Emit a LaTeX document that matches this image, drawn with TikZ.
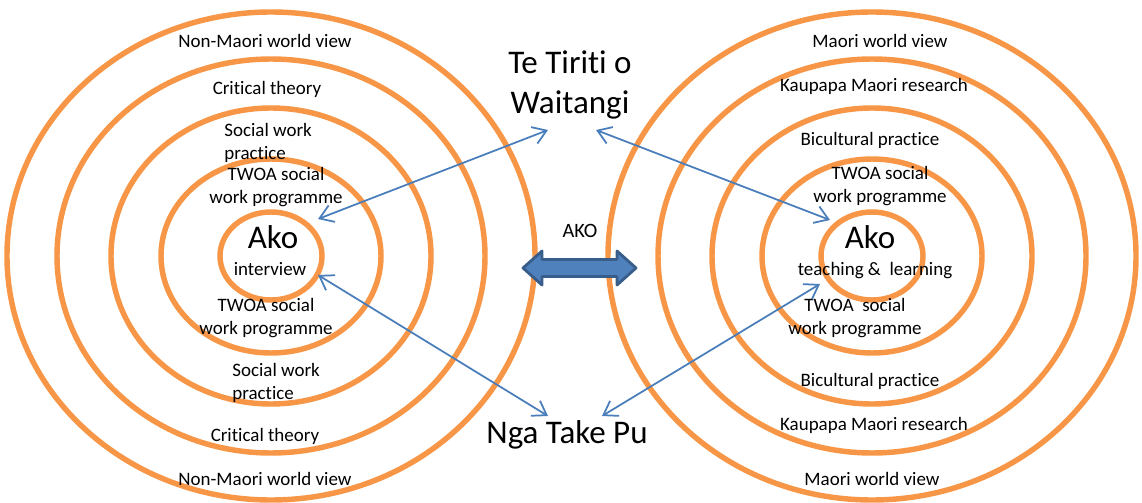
\documentclass[tikz,border=0pt]{standalone}
\usepackage{fontspec}
\setmainfont{Carlito}[Ligatures=NoCommon]
\usepackage{xcolor}
\usepackage{tikz}
\usetikzlibrary{arrows.meta}
\definecolor{ringO}{RGB}{247,150,70}
\definecolor{linkB}{RGB}{74,126,187}
\definecolor{akoF}{RGB}{79,129,189}
\definecolor{akoD}{RGB}{56,93,138}

\begin{document}
\begin{tikzpicture}[
    ring/.style={draw=ringO, line width=3.1pt},
    lbl/.style={font=\fontsize{10.8}{13.1}\selectfont, inner sep=0pt, align=center},
    big/.style={font=\fontsize{18.8}{23.3}\selectfont, inner sep=0pt, align=center},
    link/.style={{Straight Barb[length=7.5pt,width=10pt]}-{Straight Barb[length=7.5pt,width=10pt]},
                 linkB, line width=1pt}
  ]
  \useasboundingbox (0,0) rectangle (22.84,10.04);
  \coordinate (cL) at (5.42,4.92);
  \coordinate (cR) at (17.44,4.92);

  % non-Maori side
  \draw[ring] (cL) ellipse [x radius=5.28, y radius=4.88];
  \draw[ring] (cL) ellipse [x radius=4.28, y radius=3.94];
  \draw[ring] (cL) ellipse [x radius=3.20, y radius=2.96];
  \draw[ring] (cL) ellipse [x radius=2.20, y radius=1.94];
  \draw[ring] (cL) ellipse [x radius=1.02, y radius=0.88];

  % Maori side
  \draw[ring] (cR) ellipse [x radius=5.28, y radius=4.88];
  \draw[ring] (cR) ellipse [x radius=4.28, y radius=3.94];
  \draw[ring] (cR) ellipse [x radius=3.20, y radius=2.96];
  \draw[ring] (cR) ellipse [x radius=2.20, y radius=1.94];
  \draw[ring] (cR) ellipse [x radius=1.02, y radius=0.88];

  \node[lbl, anchor=base] (nmT) at (5.30,9.08) {Non-Maori world view};
  \node[lbl, anchor=base] (ctT) at (5.34,8.14) {Critical theory};
  \node[lbl, anchor=west, align=left] (swT) at (4.48,7.18) {Social work\\practice};
  \node[lbl] (twT) at (5.52,6.30) {TWOA social\\work programme};
  \node[big, anchor=base] (akoL) at (5.46,5.08) {Ako};
  \node[lbl, anchor=base] (intL) at (5.40,4.54) {interview};
  \node[lbl] (twB) at (5.32,3.68) {TWOA social\\work programme};
  \node[lbl, anchor=west, align=left] (swB) at (4.64,2.38) {Social work\\practice};
  \node[lbl, anchor=base] (ctB) at (5.30,1.22) {Critical theory};
  \node[lbl, anchor=base] (nmB) at (5.30,0.34) {Non-Maori world view};

  \node[lbl, anchor=base] (mwT) at (17.60,9.08) {Maori world view};
  \node[lbl, anchor=base] (kmT) at (17.48,8.20) {Kaupapa Maori research};
  \node[lbl, anchor=base] (bpT) at (17.40,7.12) {Bicultural practice};
  \node[lbl] (twRT) at (17.60,6.32) {TWOA social\\work programme};
  \node[big, anchor=base] (akoR) at (17.40,5.08) {Ako};
  \node[lbl, anchor=base] (teach) at (17.50,4.54) {teaching \&\ \ learning};
  \node[lbl] (twRB) at (17.10,3.68) {TWOA\ \ social\\work programme};
  \node[lbl, anchor=base] (bpB) at (17.40,2.32) {Bicultural practice};
  \node[lbl, anchor=base] (kmB) at (17.48,1.44) {Kaupapa Maori research};
  \node[lbl, anchor=base] (mwB) at (17.44,0.34) {Maori world view};

  \node[big] (tiriti) at (11.40,8.34) {Te Tiriti o\\Waitangi};
  \node[big, anchor=base] (nga) at (11.34,1.18) {Nga Take Pu};
  \node[lbl, font=\fontsize{11.6}{14}\selectfont, anchor=base] (akoMid) at (11.60,5.30) {AKO};

  % links
  \coordinate (inLT) at (6.36,5.66);
  \coordinate (inLB) at (6.36,4.54);
  \coordinate (inRT) at (16.60,5.64);
  \coordinate (inRB) at (16.40,4.36);
  \coordinate (tiL) at (10.96,7.44);
  \coordinate (tiR) at (11.92,7.44);
  \coordinate (ngL) at (10.96,1.72);
  \coordinate (ngR) at (12.04,1.72);
  \draw[link] (inLT) -- (tiL);
  \draw[link] (inLB) -- (ngL);
  \draw[link] (tiR) -- (inRT);
  \draw[link] (ngR) -- (inRB);

  \filldraw[fill=akoF, draw=akoD, line width=1.6pt, line join=round, shift={(11.59,4.68)}]
    (-1.13,0) -- (-0.75,0.34) -- (-0.75,0.17) -- (0.75,0.17) -- (0.75,0.34) -- (1.13,0)
    -- (0.75,-0.34) -- (0.75,-0.17) -- (-0.75,-0.17) -- (-0.75,-0.34) -- cycle;
\end{tikzpicture}
\end{document}
